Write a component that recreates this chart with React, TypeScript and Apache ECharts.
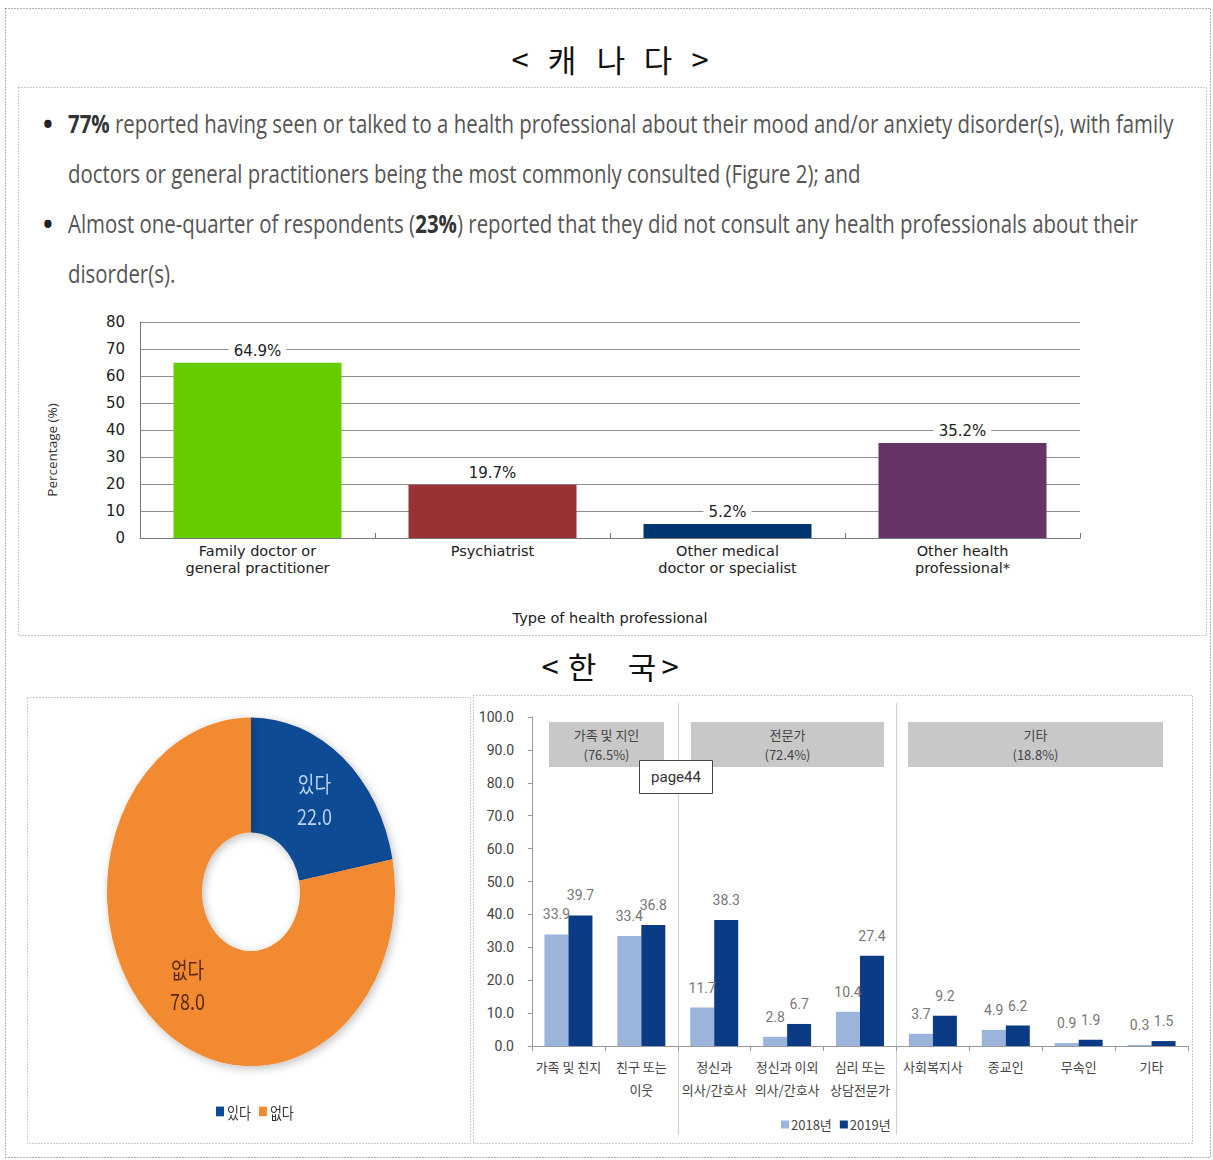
import React, { useEffect, useRef } from 'react';
import * as echarts from 'echarts';

// ---------- Canada data ----------
const caCategories = [
  'Family doctor or\ngeneral practitioner',
  'Psychiatrist',
  'Other medical\ndoctor or specialist',
  'Other health\nprofessional*',
];
const caValues = [64.9, 19.7, 5.2, 35.2];
const caColors = ['#66CC00', '#993333', '#003670', '#653366'];
const caYAxisName = 'Percentage (%)';
const caXAxisName = 'Type of health professional';
const caTitle = ['<', '캐', '나', '다', '>'];
const caLines = [
  '{b|77%} reported having seen or talked to a health professional about their mood and/or anxiety disorder(s), with family',
  'doctors or general practitioners being the most commonly consulted (Figure 2); and',
  'Almost one-quarter of respondents ({b|23%}) reported that they did not consult any health professionals about their',
  'disorder(s).',
];

// ---------- Korea data ----------
const krTitle = ['<', '한', '국', '>'];
const krPieNames = ['있다', '없다'];
const krPieValues = [22.0, 78.0];
const krPieColors = ['#0E4B95', '#F28A31'];
const krPieLabelColors = ['#BCD3F2', '#5A2A0A'];

const krCategories = [
  '가족 및 친지',
  '친구 또는\n이웃',
  '정신과\n의사/간호사',
  '정신과 이외\n의사/간호사',
  '심리 또는\n상담전문가',
  '사회복지사',
  '종교인',
  '무속인',
  '기타',
];
const krSeriesNames = ['2018년', '2019년'];
const kr2018 = [33.9, 33.4, 11.7, 2.8, 10.4, 3.7, 4.9, 0.9, 0.3];
const kr2019 = [39.7, 36.8, 38.3, 6.7, 27.4, 9.2, 6.2, 1.9, 1.5];
const krBarColors = ['#9AB4DC', '#0B3B84'];
const krGroupNames = ['가족 및 지인', '전문가', '기타'];
const krGroupShares = ['(76.5%)', '(72.4%)', '(18.8%)'];
const pageNote = 'page44';

const LATIN = 'DejaVu Sans';
const KR = 'Noto Sans CJK KR';

function measure(text: string, font: string): number {
  const c = document.createElement('canvas').getContext('2d');
  if (!c) return text.length * 12;
  c.font = font;
  return c.measureText(text).width;
}

export default function App() {
  const mainRef = useRef<HTMLDivElement>(null);
  const pieRef = useRef<HTMLDivElement>(null);

  useEffect(() => {
    const main = echarts.init(mainRef.current!, null, { renderer: 'svg' });
    const pie = echarts.init(pieRef.current!, null, { renderer: 'svg' });

    // body text horizontal compression to match condensed look
    const FS = 25;
    const w1 =
      measure('77%', `bold ${FS}px "Open Sans"`) +
      measure(
        ' reported having seen or talked to a health professional about their mood and/or anxiety disorder(s), with family',
        `${FS}px "Open Sans"`
      );
    const sx = 1107 / w1;

    const dotted = (x: number, y: number, w: number, h: number, stroke = '#999') => ({
      type: 'rect',
      silent: true,
      shape: { x: x + 0.5, y: y + 0.5, width: w, height: h },
      style: { fill: 'none', stroke, lineWidth: 1, lineDash: [1, 2] },
      z: 1,
    });

    const graphics: any[] = [];
    graphics.push(dotted(5, 8, 1205, 1149, '#666'));
    graphics.push(dotted(18, 87, 1188, 548));
    graphics.push(dotted(27, 697, 443, 446));
    graphics.push(dotted(473, 695, 719, 448));

    // Titles
    const caTitleX = [520, 562, 611, 658, 700];
    caTitle.forEach((t, i) =>
      graphics.push({
        type: 'text',
        x: caTitleX[i],
        y: 58,
        style: { text: t, fontSize: 31, fontFamily: KR, fill: '#111', align: 'center', verticalAlign: 'middle' },
      })
    );
    const krTitleX = [550, 582, 642, 670];
    krTitle.forEach((t, i) =>
      graphics.push({
        type: 'text',
        x: krTitleX[i],
        y: 665,
        style: { text: t, fontSize: 31, fontFamily: KR, fill: '#111', align: 'center', verticalAlign: 'middle' },
      })
    );

    // Bullets and body text
    const lineY = [124, 174, 224, 274];
    [0, 2].forEach((i) =>
      graphics.push({
        type: 'text',
        x: 48,
        y: lineY[i],
        style: { text: '•', fontSize: 26, fontWeight: 'bold', fontFamily: 'Open Sans', fill: '#222', align: 'center', verticalAlign: 'middle' },
      })
    );
    caLines.forEach((t, i) =>
      graphics.push({
        type: 'text',
        x: 68,
        y: lineY[i],
        scaleX: sx,
        style: {
          text: t,
          fontSize: FS,
          fontFamily: 'Open Sans',
          fill: '#555',
          align: 'left',
          verticalAlign: 'middle',
          rich: {
            b: { fontSize: FS, fontFamily: 'Open Sans', fontWeight: 'bold', fill: '#333' },
          },
        },
      })
    );

    // Canada y-axis name
    graphics.push({
      type: 'text',
      x: 52,
      y: 450,
      rotation: Math.PI / 2,
      style: { text: caYAxisName, fontSize: 13.5, fontFamily: 'Open Sans', fill: '#333', align: 'center', verticalAlign: 'middle' },
    });

    // Korea separators
    [678, 896].forEach((x) =>
      graphics.push({
        type: 'line',
        silent: true,
        shape: { x1: x + 0.5, y1: 703, x2: x + 0.5, y2: 1135 },
        style: { stroke: '#cfcfcf', lineWidth: 1 },
      })
    );
    // Korea group header boxes
    const boxes = [
      [549, 115],
      [691, 193],
      [908, 255],
    ];
    boxes.forEach(([x, w], i) => {
      graphics.push({
        type: 'rect',
        shape: { x, y: 722, width: w, height: 45 },
        style: { fill: '#C8C8C8' },
      });
      graphics.push({
        type: 'text',
        x: x + w / 2,
        y: 744,
        style: {
          text: krGroupNames[i] + '\n' + krGroupShares[i],
          fontSize: 13,
          lineHeight: 20,
          fontFamily: KR,
          fill: '#444',
          align: 'center',
          verticalAlign: 'middle',
        },
      });
    });
    // page note box
    graphics.push({
      type: 'rect',
      shape: { x: 639.5, y: 760.5, width: 73, height: 33 },
      style: { fill: '#fff', stroke: '#444', lineWidth: 1 },
      z: 10,
    });
    graphics.push({
      type: 'text',
      x: 676,
      y: 777,
      z: 11,
      style: { text: pageNote, fontSize: 15, fontFamily: 'Roboto', fill: '#333', align: 'center', verticalAlign: 'middle' },
    });

    main.setOption({
      animation: false,
      backgroundColor: '#fff',
      grid: [
        { left: 140, top: 322, width: 940, height: 216 },
        { left: 532, top: 717, width: 656, height: 329 },
      ],
      legend: {
        data: krSeriesNames,
        left: 776,
        top: 1113,
        itemWidth: 8,
        itemHeight: 8,
        itemGap: 8,
        icon: 'rect',
        textStyle: { fontSize: 13, color: '#444', fontFamily: KR, padding: [0, 0, 0, -3] },
      },
      xAxis: [
        {
          gridIndex: 0,
          type: 'category',
          data: caCategories,
          axisLine: { lineStyle: { color: '#777' } },
          axisTick: { show: true, inside: true, length: 5, lineStyle: { color: '#777' } },
          axisLabel: { interval: 0, fontSize: 14.5, lineHeight: 17, color: '#222', fontFamily: LATIN, margin: 4 },
          name: caXAxisName,
          nameLocation: 'middle',
          nameGap: 72,
          nameTextStyle: { fontSize: 14.5, color: '#222', fontFamily: LATIN },
        },
        {
          gridIndex: 1,
          type: 'category',
          data: krCategories,
          axisLine: { lineStyle: { color: '#999' } },
          axisTick: { show: true, length: 5, lineStyle: { color: '#999' } },
          axisLabel: { interval: 0, fontSize: 13, lineHeight: 23, color: '#444', fontFamily: KR, margin: 9 },
        },
      ],
      yAxis: [
        {
          gridIndex: 0,
          type: 'value',
          min: 0,
          max: 80,
          interval: 10,
          axisLine: { show: true, lineStyle: { color: '#777' } },
          axisTick: { show: false },
          splitLine: { lineStyle: { color: '#8f8f8f', width: 1 } },
          axisLabel: { fontSize: 15, color: '#222', fontFamily: LATIN, margin: 15 },
        },
        {
          gridIndex: 1,
          type: 'value',
          min: 0,
          max: 100,
          interval: 10,
          axisLine: { show: true, lineStyle: { color: '#999' } },
          axisTick: { show: true, length: 4, lineStyle: { color: '#999' } },
          splitLine: { show: false },
          axisLabel: {
            fontSize: 14,
            color: '#444',
            fontFamily: 'Roboto',
            margin: 18,
            formatter: (v: number) => v.toFixed(1),
          },
        },
      ],
      series: [
        {
          type: 'bar',
          xAxisIndex: 0,
          yAxisIndex: 0,
          barWidth: 168,
          data: caValues.map((v, i) => ({ value: v, itemStyle: { color: caColors[i] } })),
          label: {
            show: true,
            position: 'top',
            distance: 3,
            formatter: (p: any) => p.value.toFixed(1) + '%',
            backgroundColor: '#fff',
            padding: [1, 5],
            fontSize: 15,
            color: '#222',
            fontFamily: LATIN,
          },
        },
        ...[kr2018, kr2019].map((arr, k) => ({
          name: krSeriesNames[k],
          type: 'bar',
          xAxisIndex: 1,
          yAxisIndex: 1,
          barWidth: 24,
          barGap: '0%',
          data: arr,
          itemStyle: { color: krBarColors[k] },
          label: {
            show: true,
            position: 'top',
            distance: 13,
            fontSize: 14,
            color: '#777',
            fontFamily: 'Roboto',
            formatter: (p: any) => p.value.toFixed(1),
          },
        })),
      ],
      graphic: graphics,
    });

    pie.setOption({
      animation: false,
      legend: {
        data: krPieNames,
        left: 184,
        top: 331,
        itemWidth: 8,
        itemHeight: 8,
        itemGap: 8,
        icon: 'rect',
        textStyle: { fontSize: 13, color: '#333', fontFamily: KR, padding: [0, 0, 0, -2] },
      },
      series: [
        {
          type: 'pie',
          center: [224, 161],
          radius: [49, 144],
          startAngle: 90,
          clockwise: true,
          labelLine: { show: false },
          data: krPieValues.map((v, i) => ({
            value: v,
            name: krPieNames[i],
            itemStyle: {
              color: krPieColors[i],
              shadowBlur: 8,
              shadowColor: 'rgba(0,0,0,0.25)',
              shadowOffsetX: 2,
              shadowOffsetY: 2,
            },
            label: { color: krPieLabelColors[i] },
          })),
          label: {
            show: true,
            position: 'inside',
            formatter: (p: any) => `${p.name}\n${Number(p.value).toFixed(1)}`,
            fontSize: 18,
            lineHeight: 27,
            fontFamily: KR,
            align: 'left',
          },
        },
      ],
    });

    return () => {
      main.dispose();
      pie.dispose();
    };
  }, []);

  return (
    <div style={{ position: 'absolute', left: 0, top: 0, width: 1213, height: 1160, background: '#fff' }}>
      <div ref={mainRef} style={{ position: 'absolute', left: 0, top: 0, width: 1213, height: 1160 }} />
      <div
        ref={pieRef}
        style={{
          position: 'absolute',
          left: 27,
          top: 697,
          width: 443,
          height: 369,
          transform: 'scaleY(1.21)',
          transformOrigin: '0 0',
        }}
      />
    </div>
  );
}
